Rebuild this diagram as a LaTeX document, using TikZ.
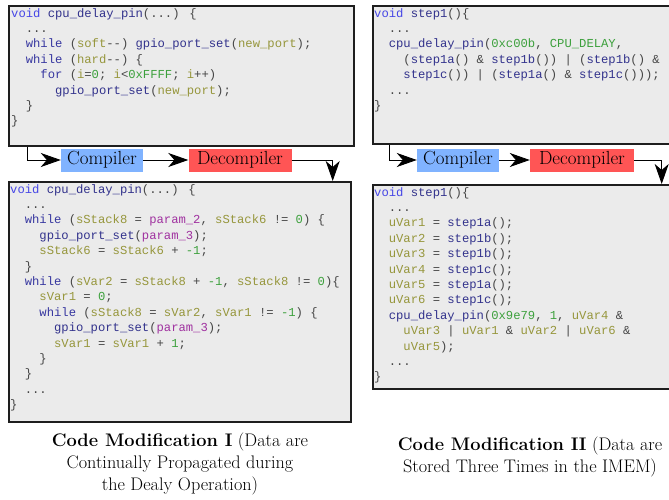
\documentclass[tikz,border=0pt]{standalone}
\usepackage{fontspec}
\usepackage{xcolor}
\usetikzlibrary{arrows.meta,positioning,calc}
\newfontfamily\codefont{Liberation Mono}
\definecolor{kwvoid}{RGB}{70,70,230}
\definecolor{kwctl}{RGB}{55,55,160}
\definecolor{fncol}{RGB}{50,50,140}
\definecolor{varcol}{RGB}{150,150,60}
\definecolor{numcol}{RGB}{60,160,60}
\definecolor{prmcol}{RGB}{160,50,160}
\definecolor{punct}{RGB}{70,70,70}
\definecolor{boxfill}{RGB}{235,235,235}
\definecolor{boxline}{RGB}{30,30,30}
\definecolor{compblue}{RGB}{128,179,255}
\definecolor{decompred}{RGB}{255,85,85}
% code colouring
\newcommand{\kwv}[1]{\textcolor{kwvoid}{#1}}
\newcommand{\kwd}[1]{\textcolor{kwctl}{#1}}
\newcommand{\fnc}[1]{\textcolor{fncol}{#1}}
\newcommand{\cvar}[1]{\textcolor{varcol}{#1}}
\newcommand{\cnum}[1]{\textcolor{numcol}{#1}}
\newcommand{\prm}[1]{\textcolor{prmcol}{#1}}
\newcommand{\cind}[1]{\hspace*{#1\dimexpr0.6em\relax}}

\begin{document}
\begin{tikzpicture}[x=1pt,y=-1pt,
    codebox/.style={draw=boxline,fill=boxfill,line width=1.7pt,
                    anchor=north west,inner sep=0pt},
    code/.style={anchor=north west,inner sep=0pt,align=left,text=punct,
                 font=\codefont\fontsize{12.2}{15.4}\selectfont},
    tool/.style={minimum height=23pt,inner sep=0pt,
                 font=\fontsize{19}{20}\selectfont},
    arr/.style={-{Stealth[length=20pt,width=14pt,inset=6pt]},line width=0.9pt},
    caption/.style={align=center,font=\fontsize{18.2}{22}\selectfont}
  ]
  \useasboundingbox (0,0) rectangle (669,500);

  %% -- Left column: original code ------------------------------------------
  \node[codebox,minimum width=345pt,minimum height=140pt] (src1) at (8,5) {};
  \node[code] (srctxt1) at ([shift={(3,3)}]src1.north west) {%
    \kwv{void} \fnc{cpu\_delay\_pin}(...) \{\\
    \cind{2}...\\
    \cind{2}\kwd{while} (\cvar{soft}-{}-) \fnc{gpio\_port\_set}(\cvar{new\_port});\\
    \cind{2}\kwd{while} (\cvar{hard}-{}-) \{\\
    \cind{4}\kwd{for} (\cvar{i}=\cnum{0}; \cvar{i}<\cnum{0xFFFF}; \cvar{i}++)\\
    \cind{6}\fnc{gpio\_port\_set}(\cvar{new\_port});\\
    \cind{2}\}\\
    \}};

  %% -- Left column: tool chain ---------------------------------------------
  \node[tool,fill=compblue,minimum width=82pt] (comp1) at (102,160) {Compiler};
  \node[tool,fill=decompred,minimum width=103pt] (decomp1) at (240,160) {Decompiler};

  %% -- Left column: decompiled code ----------------------------------------
  \node[codebox,minimum width=342pt,minimum height=240pt] (res1) at (8,181) {};
  \node[code] (restxt1) at ([shift={(2,3)}]res1.north west) {%
    \kwv{void} \fnc{cpu\_delay\_pin}(...) \{\\
    \cind{2}...\\
    \cind{2}\kwd{while} (\cvar{sStack8} = \prm{param\_2}, \cvar{sStack6} != \cnum{0}) \{\\
    \cind{4}\fnc{gpio\_port\_set}(\prm{param\_3});\\
    \cind{4}\cvar{sStack6} = \cvar{sStack6} + \cnum{-1};\\
    \cind{2}\}\\
    \cind{2}\kwd{while} (\cvar{sVar2} = \cvar{sStack8} + \cnum{-1}, \cvar{sStack8} != \cnum{0})\{\\
    \cind{4}\cvar{sVar1} = \cnum{0};\\
    \cind{4}\kwd{while} (\cvar{sStack8} = \cvar{sVar2}, \cvar{sVar1} != \cnum{-1}) \{\\
    \cind{6}\fnc{gpio\_port\_set}(\prm{param\_3});\\
    \cind{6}\cvar{sVar1} = \cvar{sVar1} + \cnum{1};\\
    \cind{4}\}\\
    \cind{2}\}\\
    \cind{2}...\\
    \}};

  \coordinate (tap1) at ([xshift=19pt]src1.south west);
  \draw[arr] (tap1) |- (comp1.west);
  \draw[arr] (comp1) -- (decomp1);
  \draw[arr] (decomp1.east) -| ([xshift=-19pt]res1.north east);

  %% -- Right column: original code -----------------------------------------
  \node[codebox,minimum width=298pt,minimum height=138pt] (src2) at (372,5) {};
  \node[code] (srctxt2) at ([shift={(2,3)}]src2.north west) {%
    \kwv{void} \fnc{step1}()\{\\
    \cind{2}...\\
    \cind{2}\fnc{cpu\_delay\_pin}(\cnum{0xc00b}, \cnum{CPU\_DELAY},\\
    \cind{4}(\fnc{step1a}() \& \fnc{step1b}()) | (\fnc{step1b}() \&\\
    \cind{4}\fnc{step1c}()) | (\fnc{step1a}() \& \fnc{step1c}()));\\
    \cind{2}...\\
    \}};

  %% -- Right column: tool chain --------------------------------------------
  \node[tool,fill=compblue,minimum width=82pt] (comp2) at (458,160) {Compiler};
  \node[tool,fill=decompred,minimum width=104pt] (decomp2) at (582,160) {Decompiler};

  %% -- Right column: decompiled code ---------------------------------------
  \node[codebox,minimum width=298pt,minimum height=204pt] (res2) at (372,184) {};
  \node[code] (restxt2) at ([shift={(2,3)}]res2.north west) {%
    \kwv{void} \fnc{step1}()\{\\
    \cind{2}...\\
    \cind{2}\cvar{uVar1} = \fnc{step1a}();\\
    \cind{2}\cvar{uVar2} = \fnc{step1b}();\\
    \cind{2}\cvar{uVar3} = \fnc{step1b}();\\
    \cind{2}\cvar{uVar4} = \fnc{step1c}();\\
    \cind{2}\cvar{uVar5} = \fnc{step1a}();\\
    \cind{2}\cvar{uVar6} = \fnc{step1c}();\\
    \cind{2}\fnc{cpu\_delay\_pin}(\cnum{0x9e79}, \cnum{1}, \cvar{uVar4} \&\\
    \cind{4}\cvar{uVar3} | \cvar{uVar1} \& \cvar{uVar2} | \cvar{uVar6} \&\\
    \cind{4}\cvar{uVar5});\\
    \cind{2}...\\
    \}};

  \coordinate (tap2) at ([xshift=17pt]src2.south west);
  \draw[arr] (tap2) |- (comp2.west);
  \draw[arr] (comp2) -- (decomp2);
  \draw[arr] (decomp2.east) -| ([xshift=-10pt]res2.north east);

  %% -- Captions ------------------------------------------------------------
  \node[caption] (cap1) at (180,464) {\textbf{Code Modification I} (Data are\\
    Continually Propagated during\\ the Dealy Operation)};
  \node[caption] (cap2) at (530,457) {\textbf{Code Modification II} (Data are\\
    Stored Three Times in the IMEM)};

\end{tikzpicture}
\end{document}
